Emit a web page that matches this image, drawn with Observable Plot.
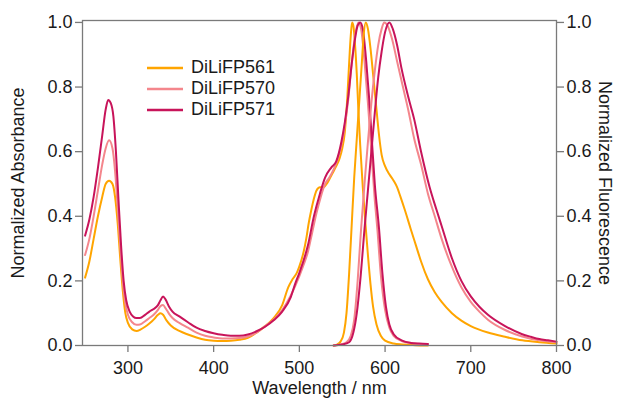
<!DOCTYPE html>
<html><head><meta charset="utf-8">
<script src="https://cdn.jsdelivr.net/npm/d3@7"></script>
<script src="https://cdn.jsdelivr.net/npm/@observablehq/plot@0.6"></script>
<style>
body{margin:0;background:#fff;font-family:"Liberation Sans",Arial,sans-serif;}
#wrap{position:relative;width:627px;height:404px;}
#legend{position:absolute;left:147px;top:57px;font-size:18px;color:#1a1a1a;}
#legend .row{display:flex;align-items:center;height:21px;}
#legend svg{margin-right:8px;}
</style></head><body><div id="wrap"></div>
<script>
const seriesNames = ["DiLiFP561", "DiLiFP570", "DiLiFP571"];
const seriesColors = ["#FFA500", "#F4868C", "#C8145A"];
const xTicks = [300, 400, 500, 600, 700, 800];
const yTicks = [0, 0.2, 0.4, 0.6, 0.8, 1.0];

// Absorbance, DiLiFP561
const absWl561 = [250,255,260,265,270,274,278,282,285,288,291,294,297,300,305,310,315,320,325,330,335,338,341,345,350,360,370,380,390,400,410,420,430,440,450,460,470,480,487,492,497,500,505,508,511,514,517,520,524,528,533,538,543,547,550,553,556,558,560,561.5,563,565,567,569,571,574,577,580,583,586,590,595,600,610,620,635,650];
const abs561 = [0.21,0.26,0.33,0.40,0.46,0.50,0.51,0.50,0.46,0.38,0.27,0.17,0.10,0.07,0.05,0.045,0.05,0.058,0.068,0.08,0.095,0.10,0.095,0.078,0.062,0.045,0.034,0.025,0.018,0.015,0.014,0.015,0.018,0.024,0.04,0.06,0.085,0.125,0.18,0.205,0.225,0.245,0.29,0.33,0.38,0.42,0.455,0.48,0.49,0.49,0.505,0.53,0.555,0.58,0.61,0.66,0.77,0.87,0.96,1.0,0.99,0.93,0.84,0.72,0.62,0.49,0.38,0.28,0.19,0.12,0.065,0.03,0.015,0.006,0.003,0.001,0.0];
// Absorbance, DiLiFP570
const absWl570 = [250,255,260,265,270,274,278,282,285,288,291,294,297,300,305,310,314,320,325,330,335,338,341,344,348,352,360,370,380,390,400,410,420,430,440,450,460,470,480,490,500,505,510,515,520,525,530,535,540,545,549,553,557,561,565,569,572,576,580,584,588,591,595,600,605,610,620,630,640,650];
const abs570 = [0.28,0.33,0.40,0.48,0.56,0.61,0.635,0.61,0.54,0.43,0.31,0.20,0.13,0.095,0.072,0.064,0.065,0.075,0.085,0.095,0.11,0.122,0.125,0.115,0.098,0.085,0.07,0.055,0.04,0.03,0.025,0.022,0.022,0.023,0.028,0.04,0.06,0.08,0.11,0.155,0.215,0.25,0.29,0.35,0.41,0.46,0.50,0.52,0.545,0.58,0.62,0.68,0.76,0.87,0.96,1.0,0.98,0.88,0.75,0.60,0.45,0.36,0.22,0.11,0.055,0.03,0.013,0.007,0.005,0.004];
// Absorbance, DiLiFP571
const absWl571 = [250,255,260,265,270,274,277,280,283,286,289,292,295,298,302,306,310,314,320,325,330,335,338,341,344,348,352,360,370,380,390,400,410,420,430,440,450,460,470,480,490,495,500,510,517,524,530,537,543,549,553,557,561,565,568,571,574,578,581,584,588,593,597,601,605,610,620,630,640,650];
const abs571 = [0.34,0.39,0.46,0.55,0.65,0.73,0.76,0.75,0.71,0.60,0.45,0.31,0.20,0.14,0.105,0.09,0.085,0.085,0.095,0.105,0.113,0.125,0.14,0.152,0.142,0.12,0.105,0.09,0.072,0.055,0.045,0.038,0.033,0.03,0.03,0.034,0.044,0.058,0.078,0.105,0.15,0.19,0.225,0.31,0.40,0.47,0.52,0.55,0.57,0.63,0.69,0.77,0.87,0.95,0.99,1.0,0.98,0.88,0.78,0.66,0.50,0.36,0.22,0.12,0.065,0.035,0.015,0.008,0.006,0.005];

// Fluorescence, DiLiFP561
const emWl561 = [540,544,548,552,555,558,561,564,567,570,573,575,577.5,580,583,586,590,593,596,600,605,610,614,618,623,630,636,642,650,658,666,678,689,700,720,740,760,780,800];
const em561 = [0.0,0.003,0.012,0.04,0.1,0.22,0.37,0.52,0.64,0.76,0.88,0.96,1.0,0.98,0.92,0.84,0.73,0.65,0.59,0.555,0.53,0.51,0.49,0.46,0.42,0.36,0.31,0.26,0.205,0.165,0.135,0.1,0.077,0.06,0.04,0.027,0.016,0.01,0.006];
// Fluorescence, DiLiFP570
const emWl570 = [540,548,555,560,564,568,572,576,580,584,588,592,596,599,603,608,614,620,627,634,642,650,658,666,677,689,700,710,720,740,760,780,800];
const em570 = [0.0,0.003,0.01,0.03,0.08,0.2,0.36,0.5,0.63,0.75,0.85,0.93,0.98,1.0,0.99,0.95,0.88,0.81,0.73,0.64,0.56,0.47,0.40,0.33,0.25,0.18,0.135,0.105,0.08,0.048,0.028,0.016,0.01];
// Fluorescence, DiLiFP571
const emWl571 = [540,550,558,563,567,571,576,580,584,588,592,596,600,605,609,614,619,627,634,642,652,660,666,678,689,700,710,720,740,760,770,780,790,800];
const em571 = [0.0,0.003,0.01,0.04,0.1,0.2,0.36,0.48,0.6,0.72,0.83,0.91,0.97,1.0,0.98,0.93,0.86,0.77,0.70,0.60,0.49,0.42,0.37,0.27,0.20,0.152,0.12,0.095,0.06,0.035,0.027,0.02,0.016,0.012];

const rows = [];
function add(name, kind, wl, vals) {
  wl.forEach((w, i) => rows.push({name, key: name + "-" + kind, wl: w, v: vals[i]}));
}
add("DiLiFP561", "abs", absWl561, abs561);
add("DiLiFP570", "abs", absWl570, abs570);
add("DiLiFP571", "abs", absWl571, abs571);
add("DiLiFP561", "em", emWl561, em561);
add("DiLiFP570", "em", emWl570, em570);
add("DiLiFP571", "em", emWl571, em571);

const axisGray = "#7a7a7a";
const textColor = "#1a1a1a";

const chart = Plot.plot({
  width: 627, height: 404,
  marginLeft: 82, marginRight: 71, marginTop: 20, marginBottom: 59,
  style: {fontFamily: "'Liberation Sans', Arial, sans-serif", fontSize: "18px", color: textColor, background: "white"},
  x: {domain: [247, 800]},
  y: {domain: [0, 1.006]},
  color: {domain: seriesNames, range: seriesColors},
  marks: [
    Plot.line(rows, {x: "wl", y: "v", z: "key", stroke: "name", strokeWidth: 2, curve: "monotone-x"}),
    Plot.frame({stroke: axisGray, strokeWidth: 1.3}),
    Plot.axisX({ticks: xTicks, tickFormat: d => String(d), tickSize: 7, tickPadding: 9, stroke: axisGray, fill: textColor, label: null, strokeWidth: 1.3}),
    Plot.axisY({anchor: "left", ticks: yTicks, tickFormat: d3.format(".1f"), tickSize: 7, tickPadding: 3, stroke: axisGray, fill: textColor, label: null, strokeWidth: 1.3}),
    Plot.axisY({anchor: "right", ticks: yTicks, tickFormat: d3.format(".1f"), tickSize: 7, tickPadding: 3, stroke: axisGray, fill: textColor, label: null, strokeWidth: 1.3}),
    Plot.text(["Wavelength / nm"], {frameAnchor: "bottom", dy: 48, fill: textColor, fontSize: 18}),
    Plot.text(["Normalized Absorbance"], {frameAnchor: "left", textAnchor: "middle", rotate: -90, dx: -64, fill: textColor, fontSize: 18}),
    Plot.text(["Normalized Fluorescence"], {frameAnchor: "right", textAnchor: "middle", rotate: 90, dx: 48, fill: textColor, fontSize: 18})
  ]
});

const wrap = document.getElementById("wrap");
wrap.appendChild(chart);
const legend = document.createElement("div");
legend.id = "legend";
seriesNames.forEach((n, i) => {
  const row = document.createElement("div");
  row.className = "row";
  row.innerHTML = `<svg width="36" height="6"><line x1="0" y1="3" x2="36" y2="3" stroke="${seriesColors[i]}" stroke-width="2.5"/></svg><span>${n}</span>`;
  legend.appendChild(row);
});
wrap.appendChild(legend);
</script></body></html>
